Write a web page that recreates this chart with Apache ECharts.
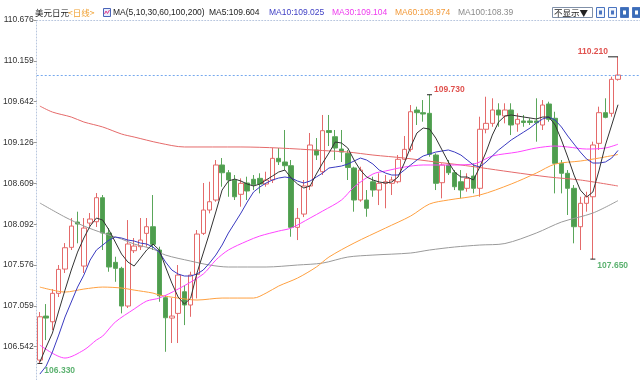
<!DOCTYPE html>
<html><head><meta charset="utf-8">
<script src="https://cdn.jsdelivr.net/npm/echarts@6/dist/echarts.min.js"></script>
<style>html,body{margin:0;padding:0;background:#fff}#c{width:640px;height:380px}</style>
</head><body><div id="c"></div>
<script>
// y-axis tick labels
const yTicks = [106.542, 107.059, 107.576, 108.092, 108.609, 109.126, 109.642, 110.159, 110.676];
// daily candles [open, close, low, high]
const candles = [
[106.372,106.920,106.330,106.980],[106.929,106.904,106.625,107.081],[106.857,107.217,106.752,107.271],
[107.217,107.520,107.170,107.575],[107.524,107.794,107.474,107.853],[107.799,108.068,107.765,108.170],
[108.119,108.094,107.850,108.250],[107.562,108.043,107.474,108.170],[108.106,108.157,108.068,108.233],
[108.123,108.427,108.056,108.486],[108.427,107.980,107.765,108.461],[107.980,107.550,107.490,108.043],
[107.609,107.533,107.363,107.680],[107.533,107.056,106.963,107.553],[107.056,107.841,107.031,108.144],
[107.756,107.815,107.727,107.917],[107.807,107.891,107.765,108.170],[107.976,108.060,107.807,108.170],
[108.060,107.837,107.765,108.461],[107.765,107.186,107.110,107.807],[107.161,106.908,106.477,107.195],
[106.904,106.929,106.588,107.157],[106.963,107.448,106.588,107.575],[107.237,107.069,106.815,107.322],
[107.069,107.448,106.920,107.490],[107.457,107.967,107.153,108.018],[107.976,108.271,107.955,108.613],
[108.271,108.376,108.229,108.629],[108.398,108.841,108.376,108.904],[108.841,108.743,108.566,108.929],
[108.743,108.651,108.439,108.777],[108.651,108.439,108.398,108.714],[108.470,108.609,108.313,108.672],
[108.613,108.512,108.398,108.693],[108.660,108.591,108.524,108.714],[108.672,108.600,108.482,108.736],
[108.600,108.651,108.566,108.756],[108.651,108.925,108.613,109.056],[108.925,108.882,108.841,109.056],
[108.879,108.832,108.777,109.284],[108.832,108.052,107.933,108.904],[108.052,108.166,107.891,108.296],
[108.220,108.575,108.182,108.651],[108.575,109.094,108.524,109.246],[109.031,108.967,108.904,109.182],
[108.756,109.275,108.714,109.474],[109.277,109.252,109.081,109.474],[109.199,109.056,108.904,109.284],
[109.043,109.005,108.879,109.284],[108.989,108.809,108.651,109.031],[108.803,108.398,108.250,108.819],
[108.398,108.777,108.376,108.819],[108.398,108.293,108.186,108.524],[108.629,108.524,108.439,108.693],
[108.524,108.609,108.334,108.736],[108.609,108.629,108.293,108.714],[108.609,108.651,108.461,108.693],
[108.629,108.913,108.609,108.967],[108.913,109.039,108.904,109.208],[109.039,109.515,109.009,109.600],
[109.537,109.503,109.347,109.579],[109.503,109.486,109.389,109.663],[109.495,108.976,108.946,109.730],
[108.967,108.609,108.524,108.989],[108.617,108.841,108.419,108.862],[108.841,108.743,108.714,108.904],
[108.743,108.566,108.524,108.777],[108.629,108.524,108.419,108.777],[108.546,108.672,108.503,108.736],
[108.701,108.546,108.482,108.862],[108.546,109.293,108.439,109.452],[109.293,109.368,109.242,109.705],
[109.368,109.537,109.325,109.685],[109.537,109.474,109.325,109.622],[109.461,109.537,109.368,109.622],
[109.537,109.347,109.220,109.622],[109.360,109.419,109.262,109.495],[109.398,109.379,109.325,109.474],
[109.398,109.379,109.347,109.432],[109.398,109.376,109.136,109.685],[109.347,109.600,109.284,109.663],
[109.613,109.419,109.389,109.642],[109.432,108.862,108.482,109.515],[108.862,108.736,108.482,108.904],
[108.736,108.546,108.208,108.777],[108.546,108.060,107.850,108.587],[108.060,108.356,107.765,108.439],
[108.356,108.439,108.250,108.503],[108.439,109.094,107.650,109.136],[109.115,109.503,109.031,109.579],
[109.503,109.444,109.432,109.685],[109.495,109.925,109.452,109.958],[109.925,109.980,109.908,110.210]
];
// day slots (93 candles + 3 empty slots at the right edge)
const categories = Array.from({length: 96}, (_, i) => String(i + 1));
// moving averages
const ma5 = [
106.347,106.537,106.714,106.993,107.258,107.512,107.739,107.917,108.069,108.170,
108.144,108.018,107.866,107.714,107.613,107.562,107.663,107.765,107.841,107.765,
107.550,107.347,107.170,107.081,107.157,107.474,107.727,107.980,108.246,108.524,
108.638,108.663,108.638,108.600,108.575,108.600,108.651,108.701,108.752,108.777,
108.676,108.600,108.550,108.575,108.727,108.866,108.993,109.132,109.119,109.056,
108.904,108.777,108.689,108.651,108.626,108.613,108.626,108.689,108.866,109.069,
109.246,109.309,109.296,109.182,109.031,108.879,108.752,108.689,108.689,108.651,
108.815,109.005,109.220,109.385,109.461,109.474,109.461,109.448,109.436,109.423,
109.448,109.448,109.347,109.157,108.942,108.714,108.524,108.436,108.499,108.777,
109.094,109.347,109.604];
const ma10 = [
106.195,106.296,106.474,106.689,106.917,107.107,107.296,107.448,107.638,107.765,
107.828,107.891,107.929,107.917,107.891,107.879,107.853,107.841,107.803,107.739,
107.613,107.512,107.461,107.436,107.436,107.461,107.512,107.600,107.701,107.828,
107.980,108.106,108.233,108.372,108.499,108.562,108.613,108.651,108.676,108.689,
108.676,108.638,108.613,108.638,108.689,108.739,108.803,108.815,108.828,108.853,
108.891,108.929,108.904,108.853,108.777,108.739,108.714,108.714,108.777,108.841,
108.904,108.955,108.980,109.005,109.018,109.031,109.005,108.967,108.904,108.841,
108.815,108.879,108.955,109.031,109.094,109.157,109.208,109.258,109.309,109.372,
109.423,109.448,109.410,109.322,109.208,109.106,109.005,108.917,108.866,108.866,
108.879,108.929,109.025];
// [day index, value] read at points along the line
const ma30 = [[0,106.562],[4,106.398],[7,106.499],[9,106.626],[10,106.676],[12,106.853],[15,107.018],[17,107.119],[19,107.157],[22,107.271],[26,107.461],[28,107.638],[30,107.765],[33,107.879],[35,107.942],[38,108.005],[40,108.043],[43,108.170],[45,108.258],[48,108.398],[50,108.562],[53,108.727],[55,108.765],[58,108.815],[61,108.841],[66,108.841],[69,108.853],[70,108.879],[72,108.955],[76,109.005],[79,109.056],[82,109.081],[84,109.069],[87,109.043],[90,109.056],[92,109.104]];
const ma60 = [[0,107.296],[2,107.258],[4,107.233],[7,107.271],[10,107.296],[13,107.284],[15,107.258],[18,107.220],[19,107.195],[22,107.157],[25,107.132],[29,107.157],[34,107.157],[36,107.220],[38,107.309],[41,107.410],[44,107.550],[46,107.676],[50,107.853],[55,108.043],[59,108.195],[62,108.347],[65,108.398],[70,108.461],[75,108.600],[79,108.739],[82,108.853],[86,108.891],[89,108.929],[92,108.974]];
const ma100 = [[0,108.360],[4,108.182],[7,108.069],[10,107.980],[13,107.904],[15,107.841],[18,107.777],[20,107.701],[24,107.625],[27,107.575],[30,107.550],[36,107.550],[41,107.575],[45,107.600],[49,107.676],[53,107.701],[59,107.727],[62,107.765],[66,107.803],[70,107.828],[74,107.847],[79,107.980],[83,108.119],[88,108.233],[92,108.39]];
const ma200 = [[0,109.587],[2,109.511],[5,109.448],[7,109.385],[10,109.322],[13,109.233],[15,109.195],[19,109.119],[23,109.069],[32,109.069],[38,109.056],[45,109.024],[49,109.005],[53,108.967],[58,108.929],[63,108.879],[67,108.841],[70,108.809],[75,108.752],[81,108.689],[86,108.651],[92,108.575]];
const highMarks = [62, 92];
const lowMarks = [0, 88];

const LAT = '"Liberation Sans", Arial, sans-serif';
const CJK = '"Noto Sans CJK SC", sans-serif';
const FS = 8.5;
const last = candles.length - 1;
const lastClose = candles[last][1];
const RED = '#e0524f', GREEN = '#5cb270';

const markData = [];
highMarks.forEach(i => {
  const isLast = i === last;
  markData.push({
    coord: [i, candles[i][3]], symbol: 'rect',
    symbolSize: isLast ? [10, 1] : [5, 1], symbolOffset: isLast ? [-5, 0] : [0, 0],
    itemStyle: {color: '#222'},
    label: {show: true, position: isLast ? 'left' : 'right', distance: isLast ? 0 : 2,
      offset: [0, -5], formatter: candles[i][3].toFixed(3), color: RED,
      fontWeight: 'bold', fontSize: FS, fontFamily: LAT}
  });
});
lowMarks.forEach(i => {
  markData.push({
    coord: [i, candles[i][2]], symbol: 'rect', symbolSize: [5, 1],
    itemStyle: {color: '#222'},
    label: {show: true, position: 'right', distance: 2, offset: [0, 7],
      formatter: candles[i][2].toFixed(3), color: GREEN,
      fontWeight: 'bold', fontSize: FS, fontFamily: LAT}
  });
});

function maLine(data, color, smooth) {
  return {type: 'line', data: data, symbol: 'none', showSymbol: false, smooth: smooth,
    connectNulls: true, lineStyle: {color: color, width: 1}, silent: true, z: 3};
}

const legendItems = [
  {t: '美元日元', x: 35, c: '#222', f: CJK},
  {t: '<日线>', x: 68, c: '#f0a030', f: CJK},
  {t: 'MA(5,10,30,60,100,200)', x: 113, c: '#222', f: LAT},
  {t: 'MA5:' + ma5[last], x: 209, c: '#222', f: LAT},
  {t: 'MA10:' + ma10[last], x: 269, c: '#3e3ec4', f: LAT},
  {t: 'MA30:' + ma30[ma30.length - 1][1], x: 332, c: '#ee3cee', f: LAT},
  {t: 'MA60:' + ma60[ma60.length - 1][1], x: 395, c: '#f29a3a', f: LAT},
  {t: 'MA100:' + ma100[ma100.length - 1][1], x: 458, c: '#8a8a8a', f: LAT}
];
const graphic = legendItems.map(it => ({
  type: 'text', x: it.x, y: 12.5,
  style: {text: it.t, fill: it.c, fontSize: FS, fontFamily: it.f, verticalAlign: 'middle'}
}));
// small MA icon
graphic.push({type: 'rect', shape: {x: 103.5, y: 8.5, width: 7, height: 8}, style: {fill: '#e8eefc', stroke: '#4a64b8', lineWidth: 1}});
graphic.push({type: 'polyline', shape: {points: [[104.5, 14], [106, 11], [107.5, 13.5], [109.5, 10]]}, style: {stroke: '#e03c8c', lineWidth: 1, fill: null}});
// "不显示" select box
graphic.push({type: 'rect', shape: {x: 552.5, y: 7.5, width: 40, height: 10}, style: {fill: '#fff', stroke: '#8090a8', lineWidth: 1}});
graphic.push({type: 'text', x: 554, y: 12.8, style: {text: '不显示▼', fill: '#222', fontSize: FS, fontFamily: CJK, verticalAlign: 'middle'}});
// tool buttons
[[596.5, false], [608.5, false], [620.5, true], [632.5, true]].forEach(([x, filled]) => {
  graphic.push({type: 'rect', shape: {x: x, y: 7.5, width: 8, height: 10},
    style: {fill: filled ? '#3a6db8' : '#f2f6fc', stroke: '#4a74c0', lineWidth: 1}});
  graphic.push({type: 'rect', shape: {x: x + 2.5, y: 10.5, width: 3, height: 4},
    style: {fill: filled ? '#fff' : '#4a74c0'}});
});

const chart = echarts.init(document.getElementById('c'), null, {renderer: 'canvas'});
chart.setOption({
  animation: false,
  grid: {left: 34, right: 0, top: 20, bottom: 0},
  xAxis: {type: 'category', data: categories, position: 'top', boundaryGap: true,
    axisLine: {show: true, lineStyle: {color: '#b8c6de', type: [1, 2]}},
    axisTick: {show: false}, axisLabel: {show: false}, splitLine: {show: false}},
  yAxis: {type: 'value', min: 106.12, max: 110.676, scale: true,
    axisLine: {show: true, lineStyle: {color: '#b8c6de', type: [1, 2]}},
    axisTick: {show: true, length: 3, customValues: yTicks, lineStyle: {color: '#999'}},
    axisLabel: {customValues: yTicks, formatter: v => v.toFixed(3), color: '#333',
      fontSize: FS, fontFamily: LAT, margin: 3},
    splitLine: {show: false}},
  graphic: graphic,
  series: [
    {type: 'candlestick', data: candles, barWidth: 5,
      itemStyle: {color: '#ffffff', color0: '#4e9d4e', borderColor: '#e46a6a', borderColor0: '#5aa65a', borderWidth: 1},
      markLine: {silent: true, symbol: ['none', 'none'], label: {show: false},
        lineStyle: {color: '#76a9ee', type: [2, 2], width: 1}, data: [{yAxis: lastClose}]},
      markPoint: {silent: true, data: markData}
    },
    maLine(ma200, '#e56a6a', 0.3),
    maLine(ma100, '#9a9a9a', 0.3),
    maLine(ma60, '#ffa040', 0.3),
    maLine(ma30, '#ff44ff', 0.3),
    maLine(ma10, '#3a3ac0', false),
    maLine(ma5, '#333333', false)
  ]
});
</script></body></html>
